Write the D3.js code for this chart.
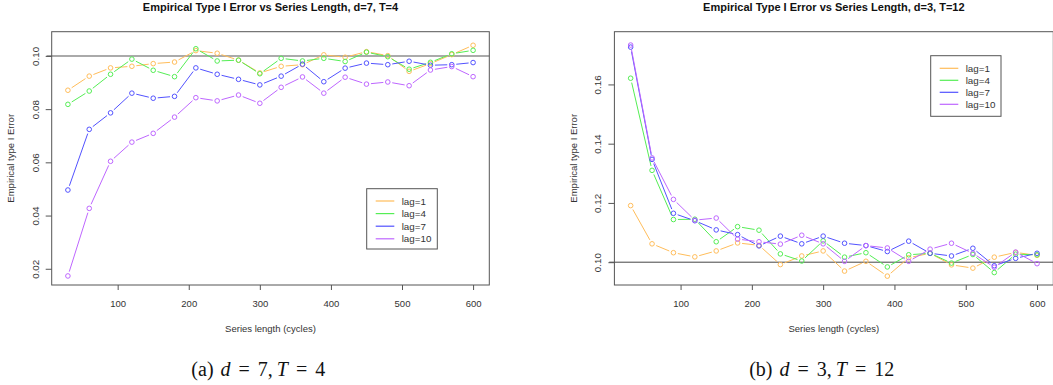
<!DOCTYPE html>
<html>
<head>
<meta charset="utf-8">
<script src="https://cdn.jsdelivr.net/npm/d3@7"></script>
<style>
  body { margin: 0; background: #fff; }
  svg { display: block; font-family: "Liberation Sans", Arial, sans-serif; }
</style>
</head>
<body>
<svg width="1053" height="385"></svg>
<script>
// series length (cycles) shared by both panels
const seriesLength = [30, 60, 90, 120, 150, 180, 210, 240, 270, 300, 330, 360, 390, 420, 450, 480, 510, 540, 570, 600];
const lagLabels = ["lag=1", "lag=4", "lag=7", "lag=10"];
const lagColors = ["#ffbd5a", "#55ee55", "#5252ff", "#be66ff"];
const xTicks = [100, 200, 300, 400, 500, 600];

// panel (a) d=7, T=4
const a_lag1 = [0.0871, 0.0924, 0.0955, 0.0961, 0.0971, 0.0977, 0.1020, 0.1010, 0.0984, 0.0936, 0.0961, 0.0967, 0.1004, 0.0995, 0.1016, 0.1001, 0.0942, 0.0971, 0.1005, 0.1040];
const a_lag4 = [0.0818, 0.0868, 0.0931, 0.0988, 0.0946, 0.0922, 0.1027, 0.0981, 0.0984, 0.0933, 0.0991, 0.0981, 0.0991, 0.0979, 0.1014, 0.0997, 0.0950, 0.0976, 0.1008, 0.1021];
const a_lag7 = [0.0496, 0.0724, 0.0786, 0.0860, 0.0841, 0.0848, 0.0955, 0.0931, 0.0912, 0.0891, 0.0924, 0.0969, 0.0903, 0.0954, 0.0973, 0.0967, 0.0980, 0.0965, 0.0967, 0.0975];
const a_lag10 = [0.0173, 0.0427, 0.0604, 0.0676, 0.0709, 0.0770, 0.0843, 0.0831, 0.0853, 0.0822, 0.0882, 0.0921, 0.0860, 0.0920, 0.0894, 0.0902, 0.0888, 0.0947, 0.0960, 0.0922];
const a_yTicks = [0.02, 0.04, 0.06, 0.08, 0.10];

// panel (b) d=3, T=12
const b_lag1 = [0.1191, 0.1062, 0.1032, 0.1018, 0.1038, 0.1065, 0.1057, 0.0992, 0.1021, 0.1038, 0.0970, 0.1003, 0.0953, 0.1015, 0.1030, 0.0991, 0.0980, 0.1017, 0.1033, 0.1023];
const b_lag4 = [0.1621, 0.1310, 0.1144, 0.1145, 0.1069, 0.1120, 0.1108, 0.1028, 0.1004, 0.1072, 0.1017, 0.1032, 0.0984, 0.1025, 0.1030, 0.0997, 0.1026, 0.0965, 0.1027, 0.1025];
const b_lag7 = [0.1726, 0.1347, 0.1165, 0.1140, 0.1109, 0.1093, 0.1055, 0.1088, 0.1062, 0.1088, 0.1064, 0.1056, 0.1036, 0.1071, 0.1030, 0.1021, 0.1047, 0.0988, 0.1013, 0.1030];
const b_lag10 = [0.1733, 0.1352, 0.1212, 0.1142, 0.1149, 0.1078, 0.1069, 0.1061, 0.1091, 0.1062, 0.1003, 0.1056, 0.1048, 0.1003, 0.1044, 0.1064, 0.1030, 0.0983, 0.1034, 0.0995];
const b_yTicks = [0.10, 0.12, 0.14, 0.16];

const svg = d3.select("svg");

function drawPanel(p) {
    const x = d3.scaleLinear().domain([7.2, 622.8]).range([p.left, p.right]);
    const y = d3.scaleLinear().domain(p.yDomain).range([285, 31.7]);
    const g = svg.append("g");

    // reference line at 0.10
    g.append("line")
        .attr("x1", x(0)).attr("x2", p.right)
        .attr("y1", y(0.10)).attr("y2", y(0.10))
        .attr("stroke", p.refColor)
        .attr("stroke-width", p.refWidth);

    // plot box
    g.append("rect")
        .attr("x", p.left).attr("y", 31.7)
        .attr("width", p.right - p.left).attr("height", 285 - 31.7)
        .attr("fill", "none")
        .attr("stroke", "#555");

    // x axis
    const xAxis = g.append("g")
        .attr("transform", "translate(0,285)")
        .call(d3.axisBottom(x).tickValues(xTicks).tickSize(5).tickPadding(10));
    xAxis.select(".domain").remove();
    xAxis.selectAll("line").attr("stroke", "#555");
    xAxis.selectAll("text").attr("font-size", 9.5).attr("fill", "#333")
        .attr("font-family", "Liberation Sans, Arial, sans-serif");

    // y axis, labels parallel to the axis
    const yAxis = g.append("g")
        .attr("transform", `translate(${p.left},0)`)
        .call(d3.axisLeft(y).tickValues(p.yTicks).tickSize(6).tickFormat(d3.format(".2f")));
    yAxis.select(".domain").remove();
    yAxis.selectAll("line").attr("stroke", "#555");
    yAxis.selectAll("text")
        .attr("transform", "rotate(-90)")
        .attr("x", 0).attr("y", -13).attr("dy", 0)
        .attr("text-anchor", "middle")
        .attr("font-size", 9.8).attr("fill", "#333")
        .attr("font-family", "Liberation Sans, Arial, sans-serif");

    // titles
    const mid = (p.left + p.right) / 2;
    g.append("text")
        .attr("x", mid).attr("y", 11)
        .attr("text-anchor", "middle")
        .attr("font-size", 11).attr("font-weight", "bold").attr("fill", "#111")
        .text(p.title);
    g.append("text")
        .attr("x", mid).attr("y", 331.5)
        .attr("text-anchor", "middle")
        .attr("font-size", 9.5).attr("fill", "#333")
        .text("Series length (cycles)");
    g.append("text")
        .attr("transform", `translate(${p.left - 37.5},158.3) rotate(-90)`)
        .attr("text-anchor", "middle")
        .attr("font-size", 9.5).attr("fill", "#333")
        .text("Empirical type I Error");

    // series: lines with gaps, open circles (type="b")
    const gap = 4.5;
    p.series.forEach((vals, i) => {
        const pts = vals.map((v, j) => [x(seriesLength[j]), y(v)]);
        const segs = d3.pairs(pts).map(([a, b]) => {
            const dx = b[0] - a[0], dy = b[1] - a[1];
            const len = Math.hypot(dx, dy);
            const ux = dx / len, uy = dy / len;
            return [a[0] + ux * gap, a[1] + uy * gap, b[0] - ux * gap, b[1] - uy * gap, len];
        }).filter(s => s[4] > 2 * gap);

        g.append("g").selectAll("line")
            .data(segs)
            .join("line")
            .attr("x1", d => d[0]).attr("y1", d => d[1])
            .attr("x2", d => d[2]).attr("y2", d => d[3])
            .attr("stroke", lagColors[i])
            .attr("stroke-width", 1);

        g.append("g").selectAll("circle")
            .data(pts)
            .join("circle")
            .attr("cx", d => d[0]).attr("cy", d => d[1])
            .attr("r", 2.3)
            .attr("fill", "none")
            .attr("stroke", lagColors[i])
            .attr("stroke-width", 1);
    });

    // legend
    const lg = p.legend;
    g.append("rect")
        .attr("x", lg.x).attr("y", lg.y)
        .attr("width", lg.w).attr("height", lg.h)
        .attr("fill", "#fff").attr("stroke", "#555");
    lagLabels.forEach((lab, i) => {
        const ly = lg.y + lg.first + i * lg.step;
        g.append("line")
            .attr("x1", lg.x + 9).attr("x2", lg.x + 27.6)
            .attr("y1", ly).attr("y2", ly)
            .attr("stroke", lagColors[i]).attr("stroke-width", 1.2);
        g.append("text")
            .attr("x", lg.x + 35).attr("y", ly + 3.5)
            .attr("font-size", 9.8).attr("fill", "#333")
            .text(lab);
    });

    // sub-caption
    const cap = g.append("text")
        .attr("x", p.capX).attr("y", 376)
        .attr("text-anchor", "middle")
        .attr("font-family", "Liberation Serif, DejaVu Serif, serif")
        .attr("font-size", 20).attr("fill", "#111");
    cap.append("tspan").text(p.caption[0]);
    cap.append("tspan").attr("dx", 7).attr("font-style", "italic").text("d");
    cap.append("tspan").attr("dx", 8).text("=");
    cap.append("tspan").attr("dx", 8).text(p.caption[1] + ",");
    cap.append("tspan").attr("dx", 4).attr("font-style", "italic").text("T");
    cap.append("tspan").attr("dx", 8).text("=");
    cap.append("tspan").attr("dx", 8).text(p.caption[2]);
}

drawPanel({
    left: 51.7, right: 489.3,
    yDomain: [0.0139, 0.1091],
    yTicks: a_yTicks,
    series: [a_lag1, a_lag4, a_lag7, a_lag10],
    refColor: "#aaa", refWidth: 2,
    title: "Empirical Type I Error vs Series Length, d=7, T=4",
    legend: { x: 366.7, y: 188.7, w: 70.6, h: 60.3, first: 12.3, step: 12.6 },
    capX: 258.3, caption: ["(a)", "7", "4"]
});

drawPanel({
    left: 614.4, right: 1053.3,
    yDomain: [0.0923, 0.1778],
    yTicks: b_yTicks,
    series: [b_lag1, b_lag4, b_lag7, b_lag10],
    refColor: "#444", refWidth: 1,
    title: "Empirical Type I Error vs Series Length, d=3, T=12",
    legend: { x: 930.7, y: 55.7, w: 70.3, h: 60.6, first: 12.6, step: 12 },
    capX: 821.7, caption: ["(b)", "3", "12"]
});
</script>
</body>
</html>
